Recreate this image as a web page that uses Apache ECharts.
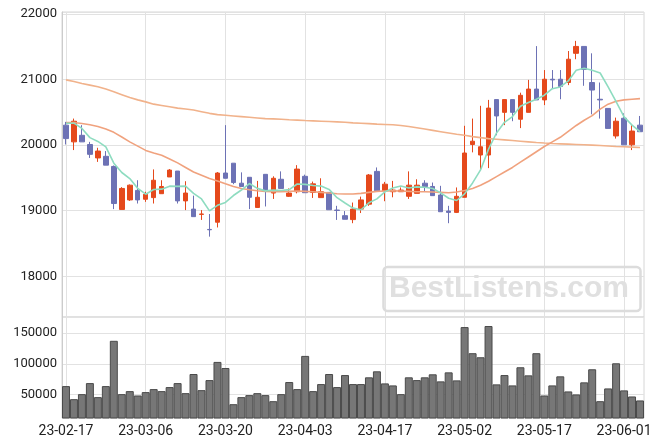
<!DOCTYPE html>
<html><head><meta charset="utf-8">
<script src="https://cdn.jsdelivr.net/npm/echarts@6/dist/echarts.min.js"></script>
<style>html,body{margin:0;padding:0;background:#fff}#c{width:663px;height:447px}</style>
</head><body><div id="c"></div>
<script>
const dates = ['23-02-17','23-02-20','23-02-21','23-02-22','23-02-23','23-02-24','23-02-27','23-02-28',
'23-03-02','23-03-03','23-03-06','23-03-07','23-03-08','23-03-09','23-03-10','23-03-13','23-03-14','23-03-15','23-03-16','23-03-17',
'23-03-20','23-03-21','23-03-22','23-03-23','23-03-24','23-03-27','23-03-28','23-03-29','23-03-30','23-03-31',
'23-04-03','23-04-04','23-04-05','23-04-06','23-04-07','23-04-10','23-04-11','23-04-12','23-04-13','23-04-14',
'23-04-17','23-04-18','23-04-19','23-04-20','23-04-21','23-04-24','23-04-25','23-04-26','23-04-27','23-04-28',
'23-05-02','23-05-03','23-05-04','23-05-08','23-05-09','23-05-10','23-05-11','23-05-12','23-05-15','23-05-16',
'23-05-17','23-05-18','23-05-19','23-05-22','23-05-23','23-05-24','23-05-25','23-05-26','23-05-30','23-05-31',
'23-06-01','23-06-02','23-06-05'];

const openV = [20305,20050,20150,20010,19805,19830,19675,19020,19165,19310,19175,19200,19260,19515,19605,19150,19025,18945,18715,18825,
19575,19725,19420,19510,19050,19555,19270,19480,19220,19290,19525,19280,19200,19280,19010,18925,18865,19025,19100,19600,
19305,19290,19290,19220,19265,19420,19370,19240,18995,18975,19205,20010,19850,19850,20695,20500,20695,20395,20500,20855,
20690,21005,21005,20955,21400,21505,20955,20700,20560,20140,20410,20005,20305];
const closeV = [20100,20365,20050,19860,19910,19695,19110,19340,19390,19165,19250,19465,19370,19620,19150,19270,18910,18950,18710,19575,
19495,19430,19370,19205,19205,19305,19495,19340,19270,19635,19275,19410,19290,19015,19005,18870,19025,19165,19545,19305,
19405,19315,19315,19390,19390,19370,19230,18985,18975,19220,19880,20060,19975,20565,20445,20695,20500,20760,20855,20690,
21005,20995,20895,21310,21505,21155,20840,20690,20255,20365,20005,20215,20205];
const lowV = [20010,19925,20050,19805,19745,19695,19025,19020,19150,19110,19135,19110,19260,19515,19110,19010,18910,18860,18605,18745,
19495,19405,19370,19025,19050,19065,19180,19340,19210,19265,19275,19195,19200,19015,18860,18870,18810,18965,19075,19305,
19145,19205,19290,19180,19265,19290,19230,18985,18810,18965,19205,19890,19615,19650,20150,20305,20365,20260,20500,20690,
20610,20855,20700,20915,21310,20905,20470,20405,20255,20100,20005,19925,20205];
const highV = [20355,20405,20305,20050,19960,19910,19690,19360,19400,19465,19290,19630,19465,19635,19605,19450,19230,19010,18950,19590,
20305,19725,19585,19510,19455,19555,19525,19600,19340,19695,19550,19445,19495,19280,19075,18995,19125,19215,19560,19660,
19440,19455,19355,19600,19480,19465,19430,19380,19075,19355,20295,20405,20600,20690,20695,20695,20695,20800,20995,21510,
21145,21145,21145,21435,21590,21505,21400,20955,20560,20420,20485,20305,20445];

const ma5 = [20335,20335,20255,20115,20057,19975,19725,19583,19490,19341,19252,19323,19329,19375,19372,19376,19264,19180,18998,19082,
19127,19232,19316,19415,19341,19303,19315,19309,19322,19408,19402,19386,19376,19325,19199,19118,19040,19015,19121,19181,
19288,19346,19377,19346,19364,19357,19339,19273,19190,19156,19257,19424,19622,19939,20185,20348,20436,20593,20651,20700,
20761,20861,20887,20979,21141,21172,21141,21100,20889,20662,20431,20305,20208];
const ma20 = [20345,20345,20330,20310,20285,20245,20195,20125,20050,19985,19920,19880,19845,19790,19730,19660,19590,19540,19490,19455,
19410,19370,19340,19320,19305,19295,19290,19290,19295,19300,19295,19290,19280,19270,19260,19255,19255,19265,19280,19295,
19300,19305,19300,19295,19290,19290,19285,19280,19275,19285,19310,19340,19390,19450,19520,19590,19660,19740,19820,19900,
19980,20050,20120,20210,20300,20380,20450,20550,20625,20670,20690,20700,20710];
const ma60 = [20995,20970,20940,20915,20890,20855,20815,20770,20725,20690,20660,20625,20605,20585,20565,20550,20535,20510,20485,20465,
20455,20445,20435,20425,20415,20405,20400,20395,20388,20382,20375,20370,20365,20360,20355,20350,20340,20335,20328,20320,
20315,20310,20300,20285,20265,20245,20225,20205,20185,20165,20150,20130,20115,20100,20090,20080,20070,20060,20050,20040,
20032,20025,20020,20015,20010,20005,20000,19995,19988,19980,19975,19970,19965];

const volume = [63600,42300,50500,68500,45600,63600,137400,50500,55400,48300,53800,58700,55400,62000,68500,52100,83300,57000,73400,103000,
93100,34100,45600,48900,52100,48900,39000,50500,70200,58700,112800,55400,66900,83300,62000,81600,66900,66900,77900,87700,
68000,64700,50500,77900,73400,77900,82800,71300,86000,72900,159800,117200,110600,161500,66400,81600,64700,94300,81100,117200,
48300,64700,79500,54900,50000,69700,91000,39000,59800,100800,56600,46700,40200];

const upColor = '#e5491c', downColor = '#6d72b5';
const gridCol = '#e2e2e2';
const chart = echarts.init(document.getElementById('c'), null, {renderer: 'canvas'});
const candles = dates.map((d, i) => [openV[i], closeV[i], lowV[i], highV[i]]);
const plain = v => String(Math.round(v));

chart.setOption({
  animation: false,
  backgroundColor: '#ffffff',
  textStyle: {fontFamily: 'Roboto'},
  grid: [
    {left: 62, right: 19, top: 12, height: 305, show: true, borderColor: '#d6d6d6', borderWidth: 1},
    {left: 62, right: 19, top: 317, height: 101, show: true, borderColor: '#d6d6d6', borderWidth: 1}
  ],
  xAxis: [
    {type: 'category', data: dates, gridIndex: 0, boundaryGap: true,
     axisLine: {show: false}, axisTick: {show: false}, axisLabel: {show: false},
     splitLine: {show: true, interval: 9, alignWithLabel: true, lineStyle: {color: gridCol}}},
    {type: 'category', data: dates, gridIndex: 1, boundaryGap: true,
     axisLine: {show: false}, axisTick: {show: false},
     axisLabel: {interval: 9, color: '#222', fontSize: 14, margin: 6, fontFamily: 'Roboto'},
     splitLine: {show: true, interval: 9, alignWithLabel: true, lineStyle: {color: gridCol}}}
  ],
  yAxis: [
    {type: 'value', gridIndex: 0, min: 17380, max: 22030, splitNumber: 5, scale: true,
     axisLine: {show: true, lineStyle: {color: '#cccccc'}}, axisTick: {show: false},
     axisLabel: {showMinLabel: false, showMaxLabel: false, color: '#222', fontSize: 13, margin: 5, formatter: plain},
     splitLine: {show: true, lineStyle: {color: gridCol}}},
    {type: 'value', gridIndex: 1, min: 11600, max: 176200, splitNumber: 3, scale: true,
     axisLine: {show: true, lineStyle: {color: '#cccccc'}}, axisTick: {show: false},
     axisLabel: {showMinLabel: false, showMaxLabel: false, color: '#222', fontSize: 13, margin: 5, formatter: plain},
     splitLine: {show: true, lineStyle: {color: gridCol}}}
  ],
  series: [
    {type: 'candlestick', xAxisIndex: 0, yAxisIndex: 0, data: candles, barWidth: 5,
     itemStyle: {color: upColor, color0: downColor, borderColor: upColor, borderColor0: downColor, borderWidth: 1}},
    {type: 'line', name: 'MA60', xAxisIndex: 0, yAxisIndex: 0, data: ma60, showSymbol: false,
     lineStyle: {color: '#f1b28b', width: 1.6}},
    {type: 'line', name: 'MA20', xAxisIndex: 0, yAxisIndex: 0, data: ma20, showSymbol: false,
     lineStyle: {color: '#f0a27e', width: 1.6}},
    {type: 'line', name: 'MA5', xAxisIndex: 0, yAxisIndex: 0, data: ma5, showSymbol: false,
     lineStyle: {color: '#8edcc0', width: 1.6}},
    {type: 'bar', xAxisIndex: 1, yAxisIndex: 1, data: volume, barCategoryGap: '0%',
     itemStyle: {color: '#777777', borderColor: '#4a4a4a', borderWidth: 1}}
  ],
  graphic: [
    {type: 'rect', z: 100, shape: {x: 383.5, y: 267, width: 257, height: 44, r: 4},
     style: {fill: 'none', stroke: '#dcdcdc', lineWidth: 2.5}},
    {type: 'text', z: 100, x: 509, y: 289,
     style: {text: 'BestListens.com', font: 'bold 30px "Liberation Sans"', fill: '#e0e0e0', align: 'center', verticalAlign: 'middle'}}
  ]
});
</script></body></html>
